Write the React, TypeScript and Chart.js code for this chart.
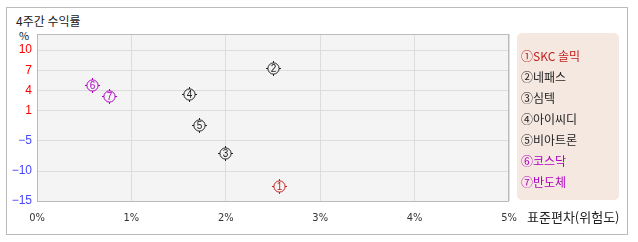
import React, { useEffect, useRef } from "react";
import { Chart, registerables, LinearScale } from "chart.js";

const names = ["SKC 솔믹", "네패스", "심텍", "아이씨디", "비아트론", "코스닥", "반도체"];
const marks = ["①", "②", "③", "④", "⑤", "⑥", "⑦"];
const digits = ["1", "2", "3", "4", "5", "6", "7"];
const stdDev = [2.57, 2.5, 2.0, 1.62, 1.72, 0.59, 0.77];
const returns4w = [-12.6, 7.2, -7.1, 3.3, -2.0, 4.7, 3.0];
const colors = ["#c0201e", "#222222", "#222222", "#222222", "#222222", "#b000c0", "#b000c0"];
const yTicks = [-15, -10, -5, 1, 4, 7, 10];
const xTicks = [0, 1, 2, 3, 4, 5];

// piecewise scale anchors (value -> fraction of plot height)
const anchorVals = [-15, -10, -5, 1, 4, 7, 10, 12.4];
const anchorFrac = [0, 30 / 167, 60.3 / 167, 90.7 / 167, 110.7 / 167, 130.7 / 167, 151 / 167, 1];

function toFrac(v: number) {
  const n = anchorVals.length;
  if (v <= anchorVals[0]) {
    return anchorFrac[0] + ((v - anchorVals[0]) * (anchorFrac[1] - anchorFrac[0])) / (anchorVals[1] - anchorVals[0]);
  }
  for (let i = 1; i < n; i++) {
    if (v <= anchorVals[i]) {
      const t = (v - anchorVals[i - 1]) / (anchorVals[i] - anchorVals[i - 1]);
      return anchorFrac[i - 1] + t * (anchorFrac[i] - anchorFrac[i - 1]);
    }
  }
  return 1;
}
function fromFrac(f: number) {
  for (let i = 1; i < anchorFrac.length; i++) {
    if (f <= anchorFrac[i]) {
      const t = (f - anchorFrac[i - 1]) / (anchorFrac[i] - anchorFrac[i - 1]);
      return anchorVals[i - 1] + t * (anchorVals[i] - anchorVals[i - 1]);
    }
  }
  return anchorVals[anchorVals.length - 1];
}

class PiecewiseScale extends (LinearScale as any) {
  static id = "piecewise";
  static defaults = {};
  buildTicks() {
    return yTicks.map((v) => ({ value: v }));
  }
  getPixelForValue(value: number) {
    return (this as any).getPixelForDecimal(toFrac(value));
  }
  getValueForPixel(pixel: number) {
    return fromFrac((this as any).getDecimalForPixel(pixel));
  }
}

Chart.register(...registerables, PiecewiseScale as any);

function makeMarker(digit: string, color: string) {
  const c = document.createElement("canvas");
  c.width = 19;
  c.height = 19;
  const g = c.getContext("2d")!;
  g.strokeStyle = color;
  g.fillStyle = color;
  g.lineWidth = 1;
  g.beginPath();
  g.arc(9.5, 9.5, 5.6, 0, Math.PI * 2);
  g.stroke();
  g.beginPath();
  g.moveTo(9.5, 2); g.lineTo(9.5, 4);
  g.moveTo(9.5, 15); g.lineTo(9.5, 17);
  g.moveTo(2, 9.5); g.lineTo(4, 9.5);
  g.moveTo(15, 9.5); g.lineTo(17, 9.5);
  g.stroke();
  g.font = "10px 'Liberation Sans'";
  g.textAlign = "center";
  g.textBaseline = "middle";
  g.fillText(digit, 9.5, 10);
  return c;
}

const frame = {
  id: "frame",
  beforeDraw(chart: any) {
    const { ctx, chartArea: a } = chart;
    ctx.save();
    ctx.fillStyle = "#f4f4f4";
    ctx.fillRect(a.left, a.top, a.right - a.left, a.bottom - a.top);
    ctx.restore();
  },
  beforeDatasetsDraw(chart: any) {
    chart.ctx.imageSmoothingEnabled = false;
  },
  afterDatasetsDraw(chart: any) {
    chart.ctx.imageSmoothingEnabled = true;
  },
  afterDraw(chart: any) {
    const { ctx, chartArea: a } = chart;
    ctx.save();
    ctx.strokeStyle = "#bbbbbb";
    ctx.lineWidth = 1;
    ctx.strokeRect(a.left + 0.5, a.top + 0.5, a.right - a.left - 1, a.bottom - a.top);
    ctx.restore();
  },
};

export default function App() {
  const ref = useRef<HTMLCanvasElement>(null);
  useEffect(() => {
    const markers = digits.map((d, i) => makeMarker(d, colors[i]));
    const chart = new Chart(ref.current!, {
      type: "scatter",
      data: {
        datasets: [
          {
            data: stdDev.map((x, i) => ({ x, y: returns4w[i] })),
            pointStyle: markers as any,
            pointRadius: 8,
          },
        ],
      },
      options: {
        animation: false,
        responsive: false,
        events: [],
        layout: { padding: { top: 34, right: 129, left: 0, bottom: 0 } },
        plugins: { legend: { display: false }, tooltip: { enabled: false } },
        scales: {
          x: {
            type: "linear",
            min: 0,
            max: 5,
            afterBuildTicks: (s: any) => {
              s.ticks = xTicks.map((v) => ({ value: v }));
            },
            afterFit: (s: any) => {
              s.height = 41;
            },
            grid: { color: "#dddddd", drawTicks: false },
            border: { display: false },
            ticks: {
              padding: 11,
              color: "#333",
              font: { size: 11, family: "'DejaVu Sans Condensed', 'Liberation Sans'" },
              maxRotation: 0,
              callback: (v: any) => v + "%",
            },
          },
          y: {
            type: "piecewise" as any,
            min: -15,
            max: 12.4,
            afterFit: (s: any) => {
              s.width = 37;
            },
            grid: { color: "#dddddd", drawTicks: false },
            border: { display: false },
            ticks: {
              padding: 5,
              font: { size: 12, family: "'Liberation Sans'" },
              color: (c: any) => (c.tick && c.tick.value > 0 ? "#ff0000" : "#4646ff"),
              callback: (v: any) => (v < 0 ? "−" + Math.abs(v) : String(v)),
            },
          } as any,
        },
      },
      plugins: [frame],
    });
    return () => chart.destroy();
  }, []);

  const font = "'Noto Sans CJK KR', 'Noto Sans', sans-serif";
  return (
    <div style={{ position: "fixed", left: 0, top: 0, width: 638, height: 242, background: "#fff", fontFamily: font }}>
      <div style={{ position: "absolute", left: 6, top: 7, width: 620, height: 226, border: "1px solid #bbbbbb" }} />
      <div style={{ position: "absolute", left: 16, top: 12, fontSize: 12, lineHeight: "17px", color: "#222" }}>4주간 수익률</div>
      <div style={{ position: "absolute", left: 19, top: 27, fontSize: 11, lineHeight: "16px", color: "#222" }}>%</div>
      <canvas ref={ref} width={638} height={242} style={{ position: "absolute", left: 0, top: 0, width: 638, height: 242 }} />
      <div
        style={{
          position: "absolute",
          left: 517,
          top: 33,
          width: 102,
          height: 167,
          background: "#f5e8e1",
          borderRadius: 5,
        }}
      >
        {names.map((n, i) => (
          <div
            key={i}
            style={{
              position: "absolute",
              left: 4,
              top: 12 + i * 21,
              fontSize: 12,
              lineHeight: "21px",
              whiteSpace: "nowrap",
              color: colors[i],
            }}
          >
            {marks[i] + n}
          </div>
        ))}
      </div>
      <div style={{ position: "absolute", left: 527, top: 207, fontSize: 13, lineHeight: "19px", color: "#222", whiteSpace: "nowrap" }}>
        표준편차(위험도)
      </div>
    </div>
  );
}
